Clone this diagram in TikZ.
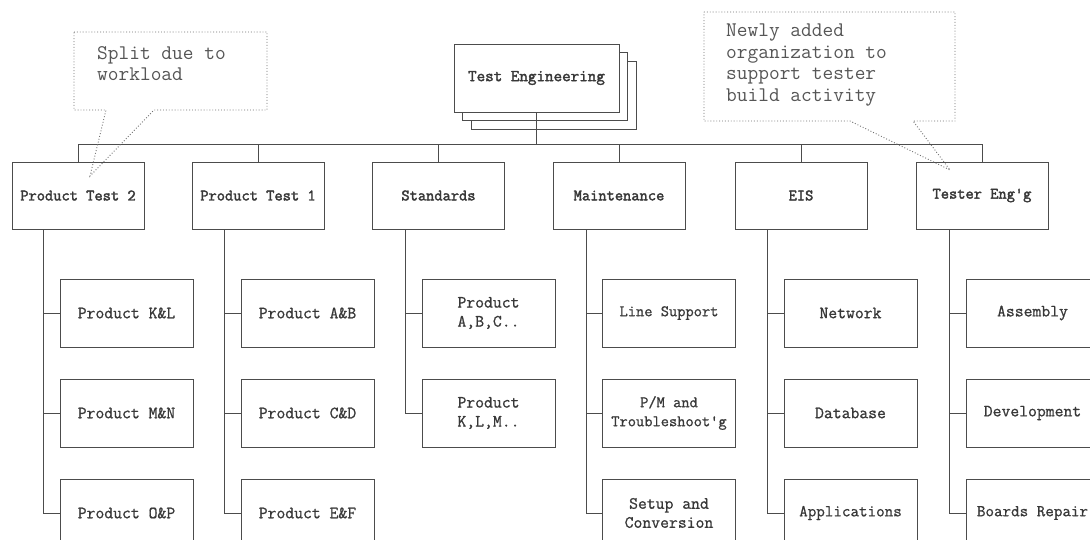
\documentclass[tikz,border=0pt]{standalone}
\usepackage{fontspec}
\usetikzlibrary{shadows,calc}
\newfontfamily\cour{Latin Modern Mono}
\newfontfamily\courmd[FakeBold=0.9]{Latin Modern Mono}
\newfontfamily\courbf[FakeBold=2.2]{Latin Modern Mono}
\definecolor{ink}{gray}{0.22}
\definecolor{rule}{gray}{0.3}
\tikzset{
  unit/.style={draw=rule, line width=0.8pt, fill=white, minimum width=132pt,
    minimum height=67pt, inner sep=1pt, text=ink, font=\courbf\fontsize{16}{18}\selectfont},
  sub/.style={draw=rule, line width=0.8pt, fill=white, minimum width=133pt,
    minimum height=68pt, inner sep=1pt, align=center, text=ink,
    font=\courmd\fontsize{17.2}{19}\selectfont},
  link/.style={draw=rule, line width=0.8pt},
  note/.style={draw=rule!80, line width=0.9pt, dotted},
  notetext/.style={align=left, inner sep=0pt, text=ink!85,
    font=\cour\fontsize{20.8}{21.5}\selectfont},
}
\begin{document}
\begin{tikzpicture}[x=1pt, y=-1pt]
\clip (0,0) rectangle (1090,540);
\fill[white] (0,0) rectangle (1090,540);

% head of the department, with stacked copies behind it
\node[unit, minimum width=165pt, minimum height=68pt, font=\courbf\fontsize{16.6}{18}\selectfont,
  double copy shadow={shadow xshift=8.5pt, shadow yshift=-8.5pt, draw=rule, fill=white, line width=0.8pt}]
  (te) at (536.5,78) {Test Engineering};

% second level
\node[unit] (pt2) at (78,195.5)  {Product Test 2};
\node[unit] (pt1) at (258,195.5) {Product Test 1};
\node[unit] (std) at (438.5,195.5) {Standards};
\node[unit] (mnt) at (619,195.5) {Maintenance};
\node[unit] (eis) at (801,195.5) {EIS};
\node[unit] (tst) at (982,195.5) {Tester Eng'g};

% bus joining the second level
\coordinate (bus) at (0,144);
\draw[link] (te.south) -- (te.south |- bus);
\draw[link] (pt2.north) -- (pt2.north |- bus) -- (tst.north |- bus) -- (tst.north);
\foreach \n in {pt1,std,mnt,eis}
  \draw[link] (\n.north) -- (\n.north |- bus);

% third level
\node[sub] (a1) at (126.5,313) {Product K\&L};
\node[sub] (a2) at (126.5,413) {Product M\&N};
\node[sub] (a3) at (126.5,513) {Product O\&P};

\node[sub] (b1) at (307.5,313) {Product A\&B};
\node[sub] (b2) at (307.5,413) {Product C\&D};
\node[sub] (b3) at (307.5,513) {Product E\&F};

\node[sub] (c1) at (488.5,313) {Product\\A,B,C..};
\node[sub] (c2) at (488.5,413) {Product\\K,L,M..};

\node[sub, font=\courmd\fontsize{16}{18}\selectfont] (d1) at (669,313) {Line Support};
\node[sub, font=\courmd\fontsize{16}{19}\selectfont] (d2) at (669,413) {P/M and\\Troubleshoot'g};
\node[sub] (d3) at (669,513) {Setup and\\Conversion};

\node[sub] (e1) at (850.5,313) {Network};
\node[sub] (e2) at (850.5,413) {Database};
\node[sub, font=\courmd\fontsize{16.6}{18}\selectfont] (e3) at (850.5,513) {Applications};

\node[sub] (f1) at (1032.5,313) {Assembly};
\node[sub] (f2) at (1032.5,413) {Development};
\node[sub, font=\courmd\fontsize{16.6}{18}\selectfont] (f3) at (1032.5,513) {Boards Repair};

% spines from each unit to its groups
\foreach \p/\a/\b/\c in {pt2/a1/a2/a3, pt1/b1/b2/b3, mnt/d1/d2/d3, eis/e1/e2/e3, tst/f1/f2/f3} {
  \coordinate (s) at ($(\a.west)+(-16,0)$);
  \draw[link] (s |- \p.south) -- (s |- \c.west) -- (\c.west);
  \draw[link] (s) -- (\a.west);
  \draw[link] (s |- \b.west) -- (\b.west);
}
\coordinate (s) at ($(c1.west)+(-16,0)$);
\draw[link] (s |- std.south) -- (s |- c2.west) -- (c2.west);
\draw[link] (s) -- (c1.west);

% callout notes
\node[notetext, anchor=west] (n1) at (97,63.5) {Split due to\\workload};
\coordinate (n1tip) at (90,176);
\draw[note] (74,32) -- (267,32) -- (267,110) -- (154,110) -- (n1tip) -- (106,110) -- (74,110) -- cycle;

\node[notetext, anchor=west] (n2) at (726,65) {Newly added\\organization to\\support tester\\build activity};
\coordinate (n2tip) at (950,170);
\draw[note] (704,12) -- (955,12) -- (955,121) -- (913,121) -- (n2tip) -- (850,121) -- (704,121) -- cycle;
\end{tikzpicture}
\end{document}
